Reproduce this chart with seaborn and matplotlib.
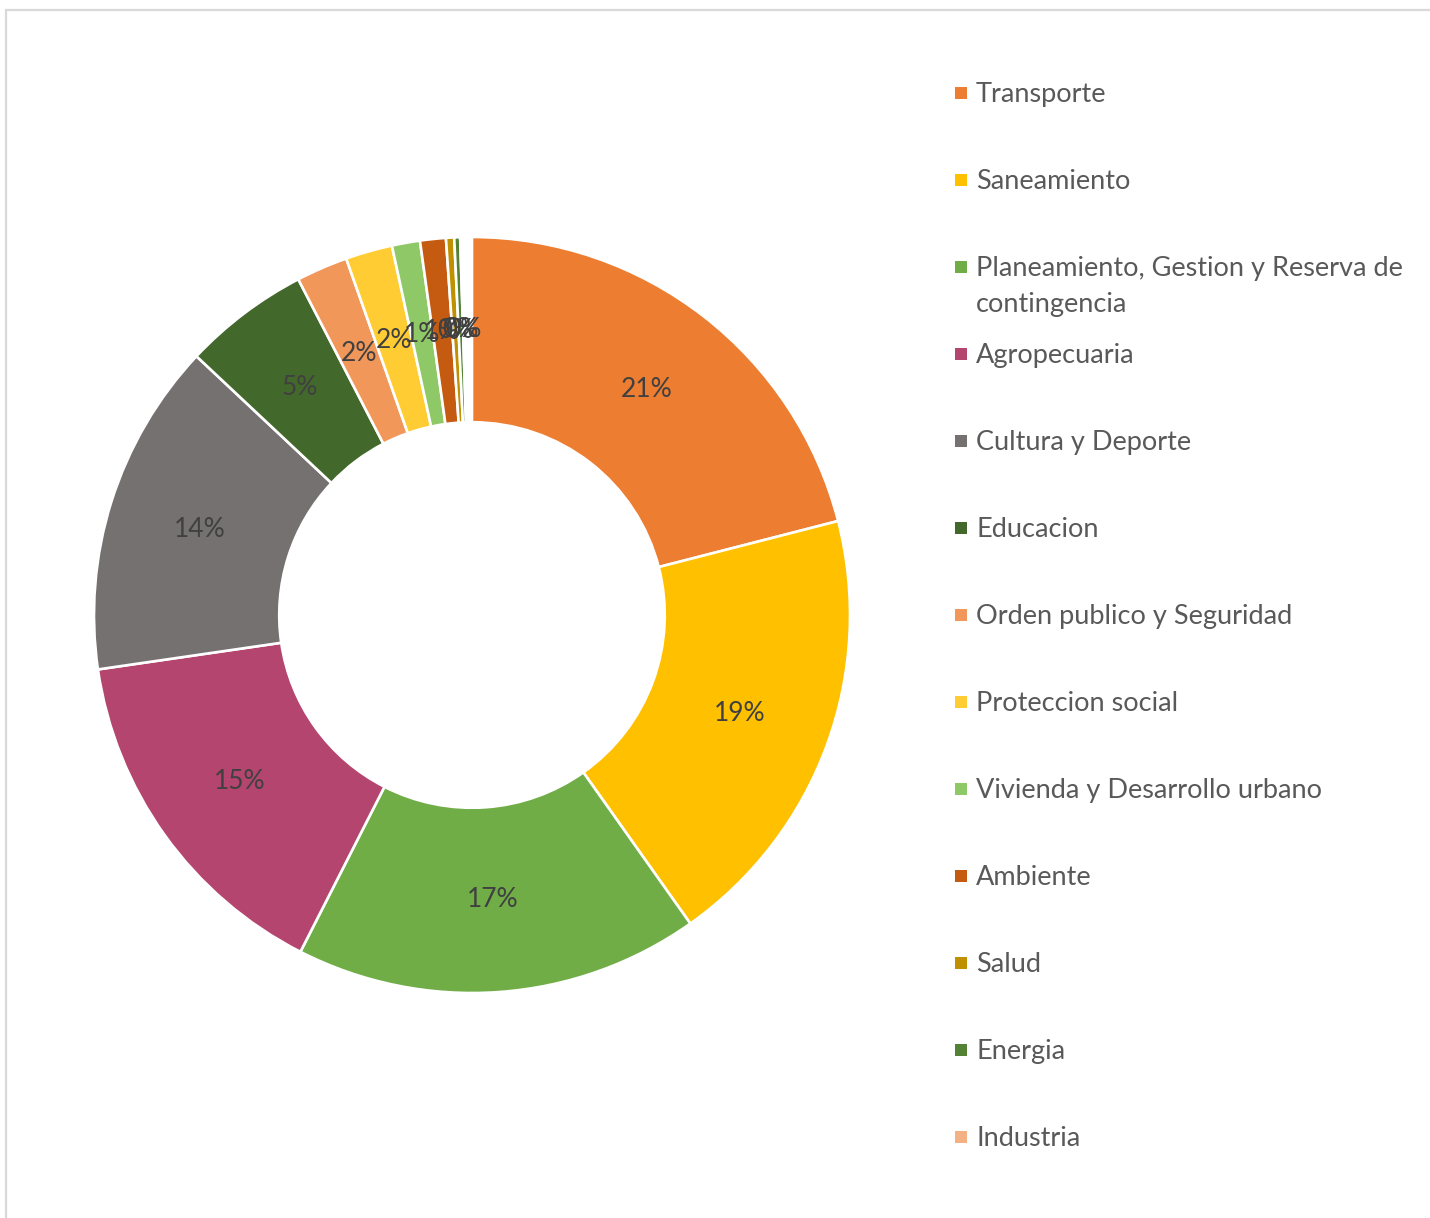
import matplotlib
matplotlib.use("Agg")
import matplotlib.pyplot as plt
import seaborn as sns
from matplotlib.patches import Rectangle

# ---- data (percent of total; the remainder of 100 stays empty) ----
categories = ["Transporte", "Saneamiento", "Planeamiento, Gestion y Reserva de\ncontingencia",
              "Agropecuaria", "Cultura y Deporte", "Educacion", "Orden publico y Seguridad",
              "Proteccion social", "Vivienda y Desarrollo urbano", "Ambiente", "Salud",
              "Energia", "Industria"]
values = [21.0, 19.2, 17.3, 15.2, 14.3, 5.4, 2.2, 2.0, 1.2, 1.1, 0.35, 0.25, 0.05]
colors = ["#ED7D31", "#FFC000", "#70AD47", "#B4456E", "#767171", "#43682B", "#F1975A",
          "#FFCD33", "#8FC866", "#C55A11", "#BF9000", "#548235", "#F4B183"]

sns.set_theme(style="white")
plt.rcParams["font.family"] = ["Lato", "DejaVu Sans"]

W, H = 1430, 1218
fig = plt.figure(figsize=(W / 100, H / 100), dpi=100)

# frame
fig.patches.append(Rectangle((6 / W, -0.05), 1.2, 1 - 10 / H + 0.05, transform=fig.transFigure,
                             fill=False, edgecolor="#D9D9D9", linewidth=1.6))

# donut axes: centre (472, 615), radius 378 px
cx, cy, R = 472, 615, 378
ax = fig.add_axes([(cx - R) / W, (H - cy - R) / H, 2 * R / W, 2 * R / H])
fractions = [v / 100 for v in values]
wedges, texts, autotexts = ax.pie(
    fractions, colors=sns.color_palette(colors), startangle=90, counterclock=False,
    normalize=False, radius=1, autopct="%1.0f%%", pctdistance=0.755,
    wedgeprops=dict(width=0.49, edgecolor="white", linewidth=1.9),
    textprops=dict(color="#404040", fontsize=19))
ax.set_xlim(-1, 1)
ax.set_ylim(-1, 1)
ax.set_aspect("equal")
ax.axis("off")

# legend (manual, fixed slots)
y0, step = 93, 87
for i, (lab, col) in enumerate(zip(categories, colors)):
    y = y0 + i * step
    fig.patches.append(Rectangle((955 / W, 1 - (y + 6) / H), 12 / W, 12 / H,
                                 transform=fig.transFigure, facecolor=col, edgecolor="none"))
    for j, line in enumerate(lab.split("\n")):
        fig.text(976 / W, 1 - (y + 9 + j * 36) / H, line, fontsize=19.5,
                 color="#595959", va="baseline", ha="left")

fig.savefig("out.png", dpi=100, facecolor="white")
